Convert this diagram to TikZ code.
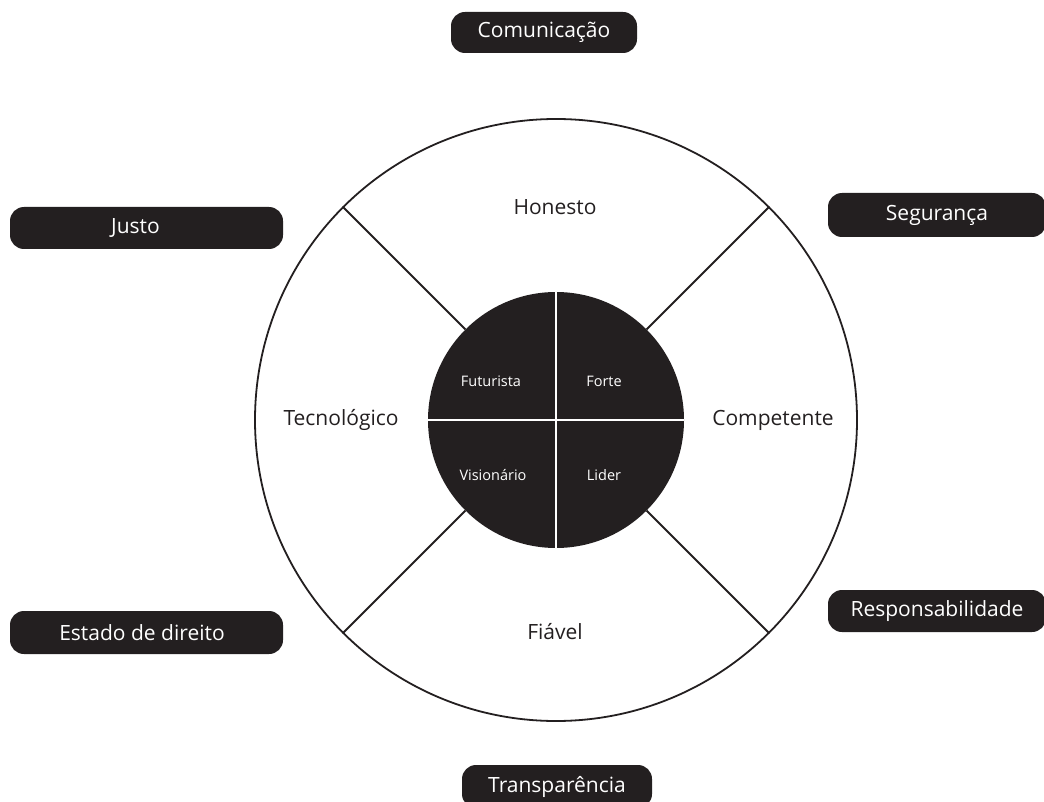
\documentclass[tikz,border=0pt]{standalone}
\usepackage{fontspec}
\setmainfont{Open Sans}
\definecolor{ink}{HTML}{231F20}
\begin{document}
\begin{tikzpicture}[x=1pt,y=-1pt,
  pill/.style={fill=ink,rounded corners=14pt,text=white,font=\fontsize{21}{24}\selectfont,inner sep=0pt},
  seg/.style={draw=ink,line width=1.8pt},
  outlab/.style={font=\fontsize{21}{24}\selectfont,text=ink},
  inlab/.style={font=\fontsize{14.5}{17}\selectfont,text=white}]
\useasboundingbox (0,0) rectangle (1044,802);
\coordinate (c) at (556,420);
\node[circle,draw=ink,line width=1.8pt,minimum size=602pt,inner sep=0pt] (outer) at (c) {};
\node[circle,fill=ink,minimum size=256pt,inner sep=0pt] (inner) at (c) {};
\foreach \a in {45,135,225,315}{
  \draw[seg] (inner.\a) -- (outer.\a);
}
\draw[white,line width=1.8pt] (inner.north) -- (inner.south);
\draw[white,line width=1.8pt] (inner.west) -- (inner.east);
\node[outlab] (hon) at (555,207) {Honesto};
\node[outlab] (tec) at (341,420) {Tecnológico};
\node[outlab] (com) at (773,420) {Competente};
\node[outlab] (fia) at (555,632) {Fiável};
\node[inlab] (fut) at (491,381) {Futurista};
\node[inlab] (for) at (604,381) {Forte};
\node[inlab] (vis) at (493,475) {Visionário};
\node[inlab] (lid) at (604,475) {Lider};
\node[pill,minimum width=186pt,minimum height=41pt] (p1) at (544,32.5) {Comunicação};
\node[pill,minimum width=273pt,minimum height=42pt] (p2) at (146.5,228) {\hspace*{-22pt}Justo};
\node[pill,minimum width=218pt,minimum height=44pt] (p3) at (937,215) {Segurança};
\node[pill,minimum width=273pt,minimum height=43pt] (p4) at (146.5,632.5) {\hspace*{-9pt}Estado de direito};
\node[pill,minimum width=218pt,minimum height=42pt] (p5) at (937,611) {Responsabilidade};
\node[pill,minimum width=190pt,minimum height=43pt] (p6) at (557,786.5) {Transparência};
\end{tikzpicture}
\end{document}
